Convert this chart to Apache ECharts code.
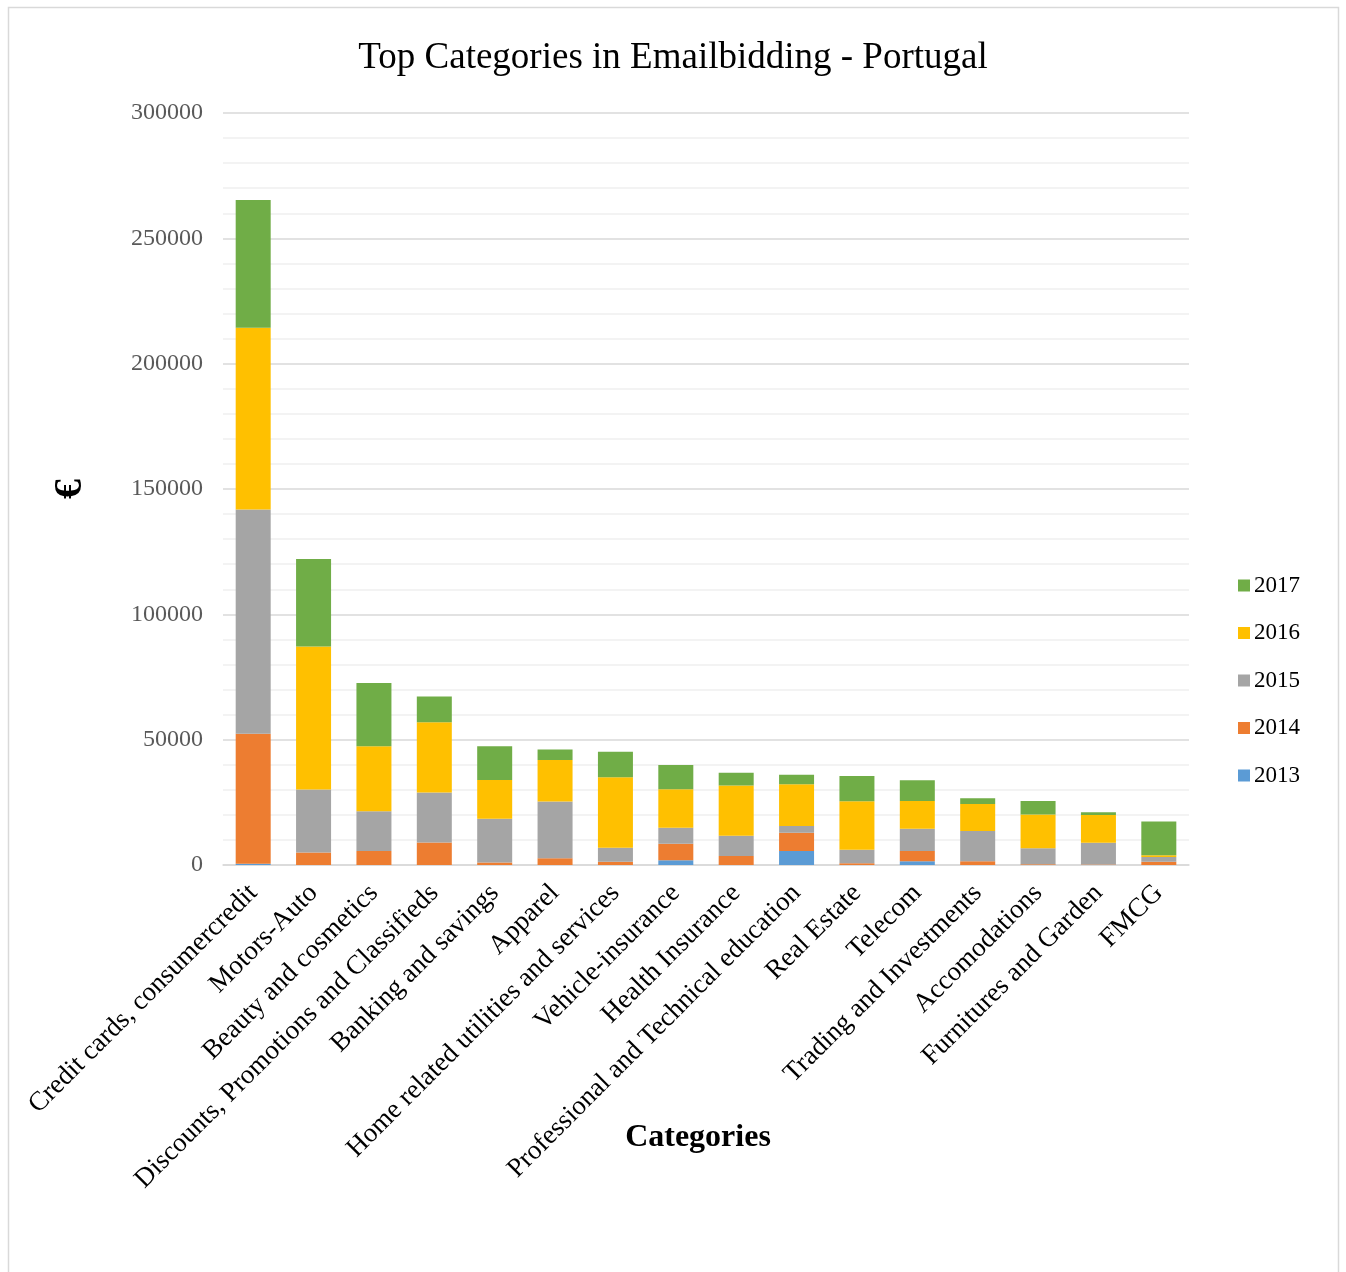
<!DOCTYPE html>
<html>
<head>
<meta charset="utf-8">
<title>Top Categories in Emailbidding - Portugal</title>
<script src="https://cdn.jsdelivr.net/npm/echarts@6/dist/echarts.min.js"></script>
<style>
  html, body { margin: 0; padding: 0; background: #ffffff; }
  #chart { width: 1346px; height: 1272px; }
</style>
</head>
<body>
<div id="chart"></div>
<script>
// Categories along the x axis
const categories = [
  'Credit cards, consumercredit', 'Motors-Auto', 'Beauty and cosmetics',
  'Discounts, Promotions and Classifieds', 'Banking and savings', 'Apparel',
  'Home related utilities and services', 'Vehicle-insurance', 'Health Insurance',
  'Professional and Technical education', 'Real Estate', 'Telecom',
  'Trading and Investments', 'Accomodations', 'Furnitures and Garden', 'FMCG'
];

// Spend per year (€), one value per category
const y2013 = [500, 0, 0, 0, 0, 0, 0, 1900, 0, 5600, 0, 1500, 0, 0, 0, 0];
const y2014 = [51900, 5000, 5600, 9000, 1000, 2700, 1300, 6600, 3600, 7300, 700, 4100, 1500, 300, 200, 1300];
const y2015 = [89400, 25100, 15800, 19900, 17500, 22600, 5600, 6400, 8100, 2700, 5400, 8900, 12100, 6400, 8700, 1900];
const y2016 = [72500, 57100, 26000, 28000, 15400, 16600, 28100, 15300, 20000, 16600, 19300, 11000, 10700, 13400, 11000, 700];
const y2017 = [51000, 34900, 25200, 10300, 13500, 4200, 10200, 9700, 5100, 3800, 10100, 8300, 2300, 5400, 1100, 13500];

const years = ['2013', '2014', '2015', '2016', '2017'];
const yearValues = [y2013, y2014, y2015, y2016, y2017];
const yearColors = ['#5b9bd5', '#ed7d31', '#a5a5a5', '#ffc000', '#70ad47'];

const serif = '"Liberation Serif", "Times New Roman", serif';

const chart = echarts.init(document.getElementById('chart'), null, { renderer: 'canvas' });

chart.setOption({
  backgroundColor: '#ffffff',
  animation: false,
  textStyle: { fontFamily: serif },
  graphic: [{
    type: 'rect',
    silent: true,
    shape: { x: 8.5, y: 7.5, width: 1330, height: 1300 },
    style: { fill: 'none', stroke: '#d9d9d9', lineWidth: 1.5 }
  }],
  title: {
    text: 'Top Categories in Emailbidding - Portugal',
    left: 'center',
    top: 35,
    textStyle: { fontFamily: serif, fontSize: 37, fontWeight: 'normal', color: '#000000' }
  },
  legend: {
    orient: 'vertical',
    left: 1233,
    top: 569,
    itemWidth: 12,
    itemHeight: 12,
    itemGap: 24.5,
    icon: 'rect',
    data: ['2017', '2016', '2015', '2014', '2013'],
    textStyle: { fontFamily: serif, fontSize: 23, color: '#000000', padding: [0, 0, 0, -1] }
  },
  grid: { left: 223, right: 157, top: 113, bottom: 407, containLabel: false },
  xAxis: {
    type: 'category',
    data: categories,
    name: 'Categories',
    nameLocation: 'middle',
    nameGap: 257,
    nameMoveOverlap: false,
    nameTextStyle: { fontFamily: serif, fontSize: 32, fontWeight: 'bold', color: '#000000', padding: [0, 16, 0, 0] },
    axisLine: { lineStyle: { color: '#d9d9d9', width: 1.5 } },
    axisTick: { show: false },
    axisLabel: {
      interval: 0,
      rotate: 45,
      margin: 24,
      fontFamily: serif,
      fontSize: 27,
      color: '#000000'
    }
  },
  yAxis: {
    type: 'value',
    min: 0,
    max: 300000,
    interval: 50000,
    name: '€',
    nameLocation: 'middle',
    nameGap: 132,
    nameMoveOverlap: false,
    nameRotate: 90,
    nameTextStyle: { fontFamily: serif, fontSize: 40, fontWeight: 'bold', color: '#000000' },
    axisLine: { show: false },
    axisTick: { show: false },
    axisLabel: {
      fontFamily: serif,
      fontSize: 24,
      color: '#595959',
      margin: 20,
      formatter: (v) => String(v)
    },
    splitLine: { lineStyle: { color: '#d9d9d9', width: 1.5 } },
    minorTick: { show: false, splitNumber: 5 },
    minorSplitLine: { show: true, lineStyle: { color: '#f0f0f0', width: 1.5 } }
  },
  series: years.map((yr, i) => ({
    name: yr,
    type: 'bar',
    stack: 'total',
    barWidth: 35,
    data: yearValues[i],
    itemStyle: { color: yearColors[i] },
    emphasis: { disabled: true }
  }))
});
</script>
</body>
</html>
